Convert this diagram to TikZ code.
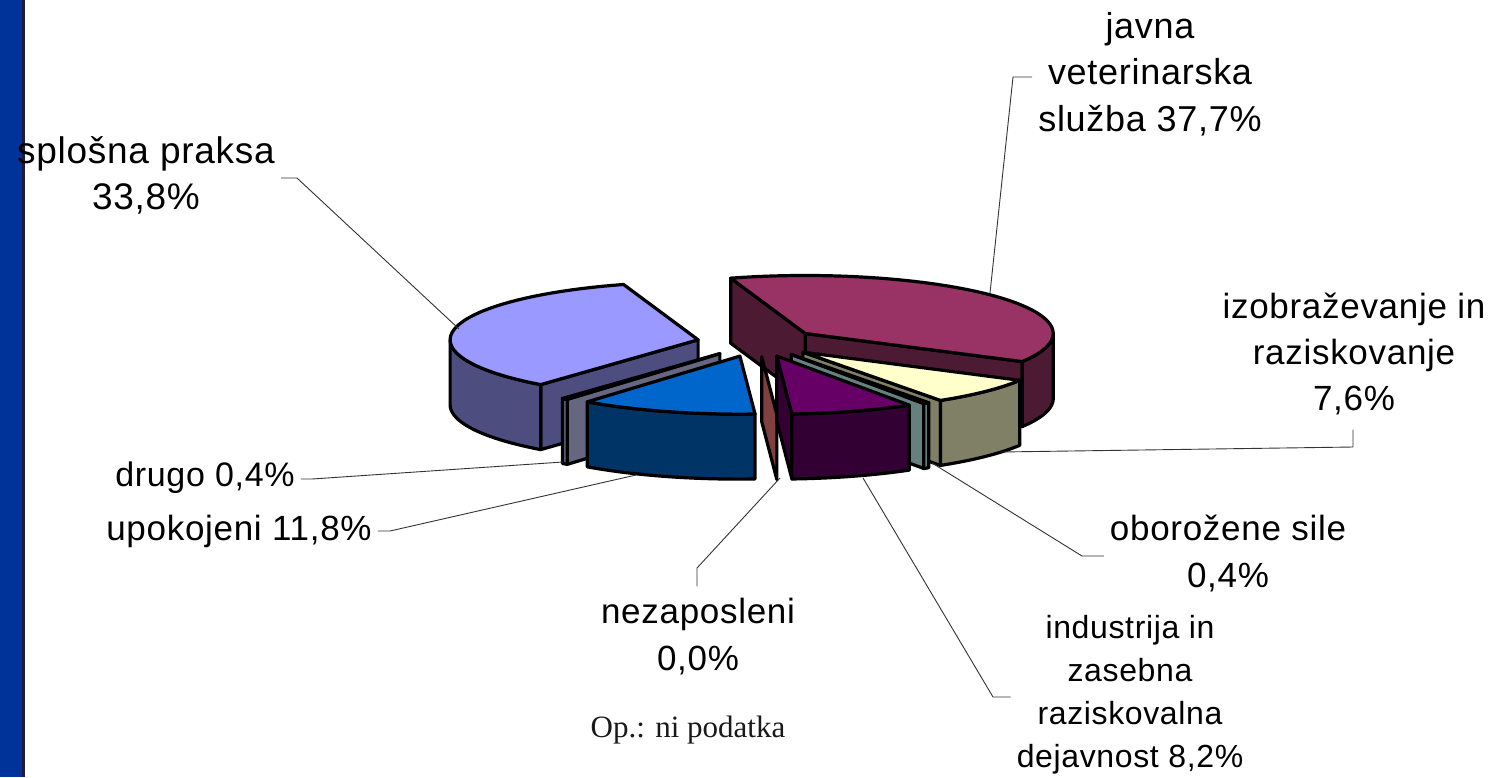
\documentclass[tikz,border=0pt]{standalone}
\usepackage{fontspec}
\setmainfont{Liberation Sans}[LetterSpace=2]
\newfontfamily\notefont{Liberation Serif}
\definecolor{barblue}{HTML}{003399}
\definecolor{barline}{HTML}{1C1C3C}
\definecolor{cSt}{HTML}{9999FF}\definecolor{cSs}{HTML}{4D4D80}
\definecolor{cJt}{HTML}{993366}\definecolor{cJs}{HTML}{4D1A33}
\definecolor{cIt}{HTML}{FFFFCC}\definecolor{cIs}{HTML}{808066}
\definecolor{cOt}{HTML}{CCFFFF}\definecolor{cOs}{HTML}{668080}
\definecolor{cNt}{HTML}{660066}\definecolor{cNs}{HTML}{330033}
\definecolor{cZt}{HTML}{FF8080}\definecolor{cZs}{HTML}{804040}
\definecolor{cUt}{HTML}{0066CC}\definecolor{cUs}{HTML}{003366}
\definecolor{cDt}{HTML}{CCCCFF}\definecolor{cDs}{HTML}{666680}
\definecolor{leadcol}{HTML}{333333}
\newcommand\PCx{758}
\newcommand\PCy{342.5}
\newcommand\PRx{248}
\newcommand\PRy{58}
\newcommand\PH{65}
\newcommand\PE{61}
% #1 start, #2 end, #3 top, #4 side, #5 face a, #6 face b, #7/#8 outer range
\newcommand\PieSlice[8]{%
  \pgfmathsetmacro\Pm{(#1+#2)/2}%
  \pgfmathsetmacro\Pcx{\PCx+\PE*cos(\Pm)}%
  \pgfmathsetmacro\Pcy{\PCy-\PE*\PRy/\PRx*sin(\Pm)}%
  \pgfmathsetmacro\Pax{\Pcx+\PRx*cos(#1)}%
  \pgfmathsetmacro\Pay{\Pcy-\PRy*sin(#1)}%
  \pgfmathsetmacro\Pbx{\Pcx+\PRx*cos(#2)}%
  \pgfmathsetmacro\Pby{\Pcy-\PRy*sin(#2)}%
  \ifnum#5=1 \draw[pieedge,fill=#4] (\Pcx,\Pcy) -- (\Pax,\Pay) -- (\Pax,\Pay+\PH) -- (\Pcx,\Pcy+\PH) -- cycle;\fi
  \ifnum#6=1 \draw[pieedge,fill=#4] (\Pcx,\Pcy) -- (\Pbx,\Pby) -- (\Pbx,\Pby+\PH) -- (\Pcx,\Pcy+\PH) -- cycle;\fi
  \ifdim #7pt<#8pt
    \draw[pieedge,fill=#4] plot[domain=#7:#8,samples=36] ({\Pcx+\PRx*cos(\x)},{\Pcy-\PRy*sin(\x)})
      -- plot[domain=#8:#7,samples=36] ({\Pcx+\PRx*cos(\x)},{\Pcy-\PRy*sin(\x)+\PH}) -- cycle;
  \fi
  \ifdim #1pt<#2pt
    \draw[pieedge,fill=#3] (\Pcx,\Pcy) -- plot[domain=#1:#2,samples=48] ({\Pcx+\PRx*cos(\x)},{\Pcy-\PRy*sin(\x)}) -- cycle;
  \fi
}
\begin{document}
\begin{tikzpicture}[x=1pt,y=-1pt,
  pieedge/.style={draw=black,line width=3.2pt,line join=round},
  lbl/.style={font=\fontsize{35}{46}\selectfont,align=center,inner xsep=6pt,inner ysep=5pt,anchor=base,text=black},
  lblsmall/.style={lbl,font=\fontsize{32}{43}\selectfont},
  leader/.style={draw=leadcol,line width=0.9pt}]
\useasboundingbox (0,0) rectangle (1495,777);
\fill[white] (0,0) rectangle (1495,777);
\fill[barblue] (0,0) rectangle (22,777);
\fill[barline] (22,0) rectangle (24.5,777);

% pie (back to front)
\PieSlice{-29}{107.5}{cJt}{cJs}{1}{1}{-29}{0}
\PieSlice{107.5}{230.6}{cSt}{cSs}{0}{1}{180}{230.6}
\PieSlice{-56.3}{-29}{cIt}{cIs}{1}{0}{-56.3}{-29}
\PieSlice{-57.7}{-56.3}{cOt}{cOs}{1}{0}{-57.7}{-56.3}
\PieSlice{-129.4}{-128}{cDt}{cDs}{0}{1}{-129.4}{-128}
\PieSlice{-86.5}{-86.5}{cZt}{cZs}{1}{0}{0}{0}
\PieSlice{-86.5}{-57.7}{cNt}{cNs}{1}{0}{-86.5}{-57.7}
\PieSlice{-128}{-86.5}{cUt}{cUs}{0}{0}{-128}{-86.5}

% labels (anchor = baseline of the last line)
\node[lbl,font=\fontsize{37}{46}\selectfont] (spl) at (146,209) {splošna praksa\\33,8\%};
\node[lbl,font=\fontsize{36}{46.5}\selectfont] (jav) at (1150,131) {javna\\veterinarska\\služba 37,7\%};
\node[lbl] (izo) at (1354,410) {izobraževanje in\\raziskovanje\\7,6\%};
\node[lbl,font=\fontsize{35}{47}\selectfont] (obo) at (1228,587) {oborožene sile\\0,4\%};
\node[lblsmall] (ind) at (1130,767) {industrija in\\zasebna\\raziskovalna\\dejavnost 8,2\%};
\node[lbl,font=\fontsize{35}{47}\selectfont] (nez) at (698,670) {nezaposleni\\0,0\%};
\node[lbl] (upo) at (239,540) {upokojeni 11,8\%};
\node[lbl,font=\fontsize{34}{46}\selectfont] (dru) at (205,486) {drugo 0,4\%};
\node[anchor=base,inner sep=0pt,font=\notefont\fontsize{31}{36}\selectfont,text=black!90] (op) at (688,737) {Op.: ni podatka};

% leader lines
\coordinate (p-spl) at (459,329);
\coordinate (k-spl) at (297,178);
\coordinate (p-jav) at (990,293);
\coordinate (k-jav) at (1013,77);
\coordinate (p-izo) at (1000,452);
\coordinate (k-izo) at (1353,447);
\coordinate (p-obo) at (932,463);
\coordinate (k-obo) at (1082,556);
\coordinate (p-ind) at (863,478);
\coordinate (k-ind) at (993,697);
\coordinate (p-nez) at (780,478);
\coordinate (k-nez) at (697,568);
\coordinate (p-upo) at (636,475);
\coordinate (k-upo) at (390,531);
\coordinate (p-dru) at (563,462);
\coordinate (k-dru) at (312,479);

\draw[leader] (spl.east |- k-spl) -- (k-spl) -- (p-spl);
\draw[leader] (jav.west |- k-jav) -- (k-jav) -- (p-jav);
\draw[leader,shorten <=10pt] (k-izo |- izo.south) -- (k-izo) -- (p-izo);
\draw[leader] (obo.west |- k-obo) -- (k-obo) -- (p-obo);
\draw[leader] (ind.west |- k-ind) -- (k-ind) -- (p-ind);
\draw[leader,shorten <=6pt] (k-nez |- nez.north) -- (k-nez) -- (p-nez);
\draw[leader] (upo.east |- k-upo) -- (k-upo) -- (p-upo);
\draw[leader] (dru.east |- k-dru) -- (k-dru) -- (p-dru);
\end{tikzpicture}
\end{document}
